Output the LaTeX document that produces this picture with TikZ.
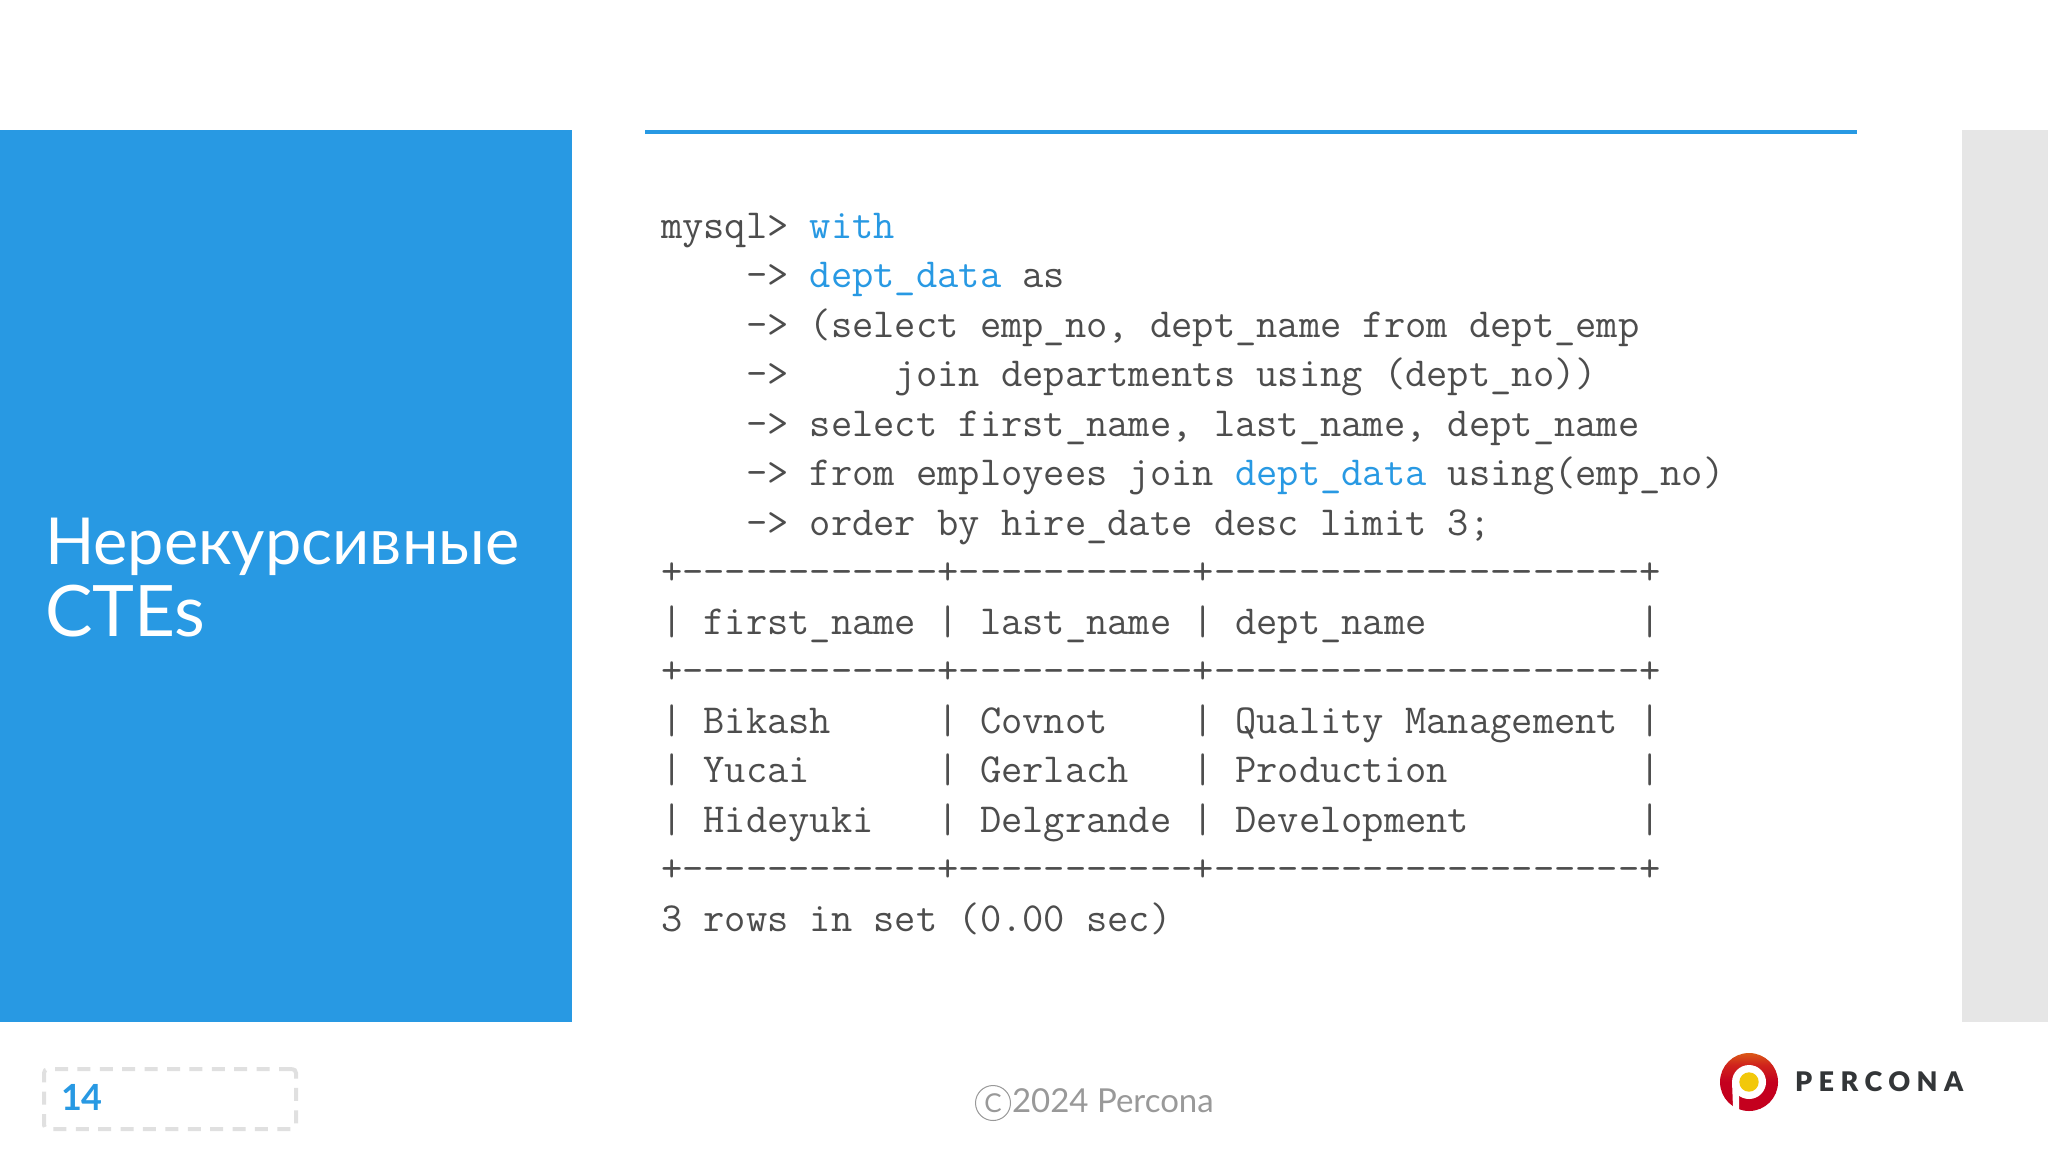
\documentclass[tikz,border=0pt]{standalone}
\usepackage{fontspec}
\usepackage{xcolor}
\usepackage{tikz}
\usetikzlibrary{positioning}
\setmainfont{Lato}
\newfontfamily\logofont[LetterSpace=24]{Lato Black}
\definecolor{slideblue}{HTML}{2899E3}
\definecolor{codegray}{HTML}{4D4D4D}
\definecolor{panelgray}{HTML}{E6E6E6}
\definecolor{boxgray}{HTML}{E0E0E0}
\definecolor{footgray}{HTML}{999999}
\definecolor{logoink}{HTML}{333638}
\definecolor{logolow}{HTML}{C4001E}
\definecolor{logomid}{HTML}{D0241C}
\definecolor{logotop}{HTML}{EBA80F}
\definecolor{logodot}{HTML}{F2C80A}
\pgfdeclareverticalshading{logoshade}{100bp}{color(0bp)=(logolow); color(50bp)=(logolow); color(65bp)=(logomid); color(90bp)=(logotop); color(100bp)=(logotop)}
\newcommand{\kw}[1]{\textcolor{slideblue}{#1}}
\newcommand{\us}{\_}
\begin{document}
\begin{tikzpicture}[x=0.5pt,y=-0.5pt,inner sep=0pt,outer sep=0pt]
    \tikzstyle{codeline}=[anchor=base west,text=codegray,font=\fontsize{20.65pt}{24pt}\selectfont\ttfamily]
    \tikzstyle{panel}=[shape=rectangle,anchor=north west]
    \useasboundingbox (0,0) rectangle (2048,1152);
    \fill[white] (0,0) rectangle (2048,1152);

    \node[panel,fill=slideblue,minimum width=286pt,minimum height=446pt] (P0) at (0,130) {};
    \node[panel,fill=panelgray,minimum width=43pt,minimum height=446pt] (P1) at (1962,130) {};
    \coordinate (R0) at (645,131.5);
    \coordinate (R1) at (1857,131.5);
    \draw[slideblue,line width=2pt] (R0) -- (R1);

    \node[anchor=base west,align=left,text=white,font=\fontsize{32.4pt}{36pt}\selectfont] (T0) at (45,636)
        {Нерекурсивные\\\fontsize{35.5pt}{36pt}\selectfont CTEs};

    \node[codeline] (L0) at (661,238) {mysql> \kw{with}};
    \node[below=24.75pt of L0.base west,codeline] (L1) {~~~~-> \kw{dept\us data} as};
    \node[below=24.75pt of L1.base west,codeline] (L2) {~~~~-> (select emp\us no, dept\us name from dept\us emp};
    \node[below=24.75pt of L2.base west,codeline] (L3) {~~~~->~~~~~join departments using (dept\us no))};
    \node[below=24.75pt of L3.base west,codeline] (L4) {~~~~-> select first\us name, last\us name, dept\us name};
    \node[below=24.75pt of L4.base west,codeline] (L5) {~~~~-> from employees join \kw{dept\us data} using(emp\us no)};
    \node[below=24.75pt of L5.base west,codeline] (L6) {~~~~-> order by hire\us date desc limit 3;};
    \node[below=24.75pt of L6.base west,codeline] (L7) {+{-}{-}{-}{-}{-}{-}{-}{-}{-}{-}{-}{-}+{-}{-}{-}{-}{-}{-}{-}{-}{-}{-}{-}+{-}{-}{-}{-}{-}{-}{-}{-}{-}{-}{-}{-}{-}{-}{-}{-}{-}{-}{-}{-}+};
    \node[below=24.75pt of L7.base west,codeline] (L8) {| first\us name | last\us name | dept\us name~~~~~~~~~~|};
    \node[below=24.75pt of L8.base west,codeline] (L9) {+{-}{-}{-}{-}{-}{-}{-}{-}{-}{-}{-}{-}+{-}{-}{-}{-}{-}{-}{-}{-}{-}{-}{-}+{-}{-}{-}{-}{-}{-}{-}{-}{-}{-}{-}{-}{-}{-}{-}{-}{-}{-}{-}{-}+};
    \node[below=24.75pt of L9.base west,codeline] (L10) {| Bikash~~~~~| Covnot~~~~| Quality Management |};
    \node[below=24.75pt of L10.base west,codeline] (L11) {| Yucai~~~~~~| Gerlach~~~| Production~~~~~~~~~|};
    \node[below=24.75pt of L11.base west,codeline] (L12) {| Hideyuki~~~| Delgrande | Development~~~~~~~~|};
    \node[below=24.75pt of L12.base west,codeline] (L13) {+{-}{-}{-}{-}{-}{-}{-}{-}{-}{-}{-}{-}+{-}{-}{-}{-}{-}{-}{-}{-}{-}{-}{-}+{-}{-}{-}{-}{-}{-}{-}{-}{-}{-}{-}{-}{-}{-}{-}{-}{-}{-}{-}{-}+};
    \node[below=24.75pt of L13.base west,codeline] (L14) {3 rows in set (0.00 sec)};

    \node[panel,draw=boxgray,line width=2pt,dash pattern=on 6.5pt off 4.7pt,rounded corners=2pt,minimum width=126pt,minimum height=30pt] (B0) at (44,1069) {};
    \node[anchor=base west,text=slideblue,font=\fontsize{18pt}{20pt}\selectfont\bfseries] (N0) at (61,1110) {14};

    \node[shape=circle,draw=footgray,line width=0.5pt,minimum size=17.5pt,text=footgray,font=\fontsize{13pt}{14pt}\selectfont] (F0) at (993,1103) {C};
    \node[anchor=base west,text=footgray,font=\fontsize{16.5pt}{20pt}\selectfont] (F1) at (1012,1112) {2024 Percona};

    \shade[shading=logoshade] (1749,1082) circle [radius=29];
    \fill[white] (1749,1082) circle [radius=17];
    \fill[white] (1732,1082) -- (1739,1082) -- (1739,1110) -- (1733,1108) -- cycle;
    \fill[logodot] (1749,1082) circle [radius=9.7];
    \node[anchor=base west,text=logoink,font=\fontsize{13.5pt}{16pt}\logofont] (W0) at (1795,1091) {PERCONA};
\end{tikzpicture}
\end{document}
